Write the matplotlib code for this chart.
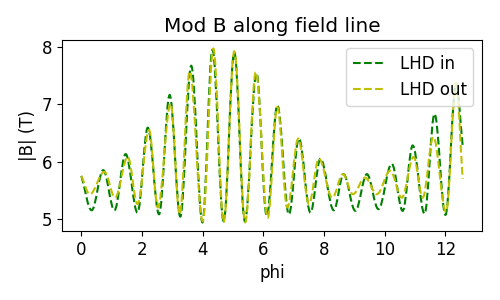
import matplotlib
matplotlib.use("Agg")
import matplotlib.pyplot as plt
from matplotlib.path import Path
from matplotlib.patches import PathPatch
from matplotlib.lines import Line2D

plt.rcParams['font.size'] = 12

# Turning points (phi, |B|) of each series
phi_in = [0.0, 0.34, 0.72, 1.09, 1.46, 1.85, 2.19, 2.56, 2.91, 3.26, 3.62, 3.99,
          4.32, 4.69, 5.04, 5.39, 5.77, 6.11, 6.46, 6.84, 7.17, 7.55, 7.88, 8.32,
          8.64, 9.03, 9.41, 9.79, 10.23, 10.59, 10.92, 11.31, 11.64, 12.00, 12.35, 12.566]
b_in = [5.75, 5.15, 5.85, 5.15, 6.13, 5.11, 6.59, 5.08, 7.16, 5.04, 7.67, 4.94,
        7.95, 4.96, 7.90, 4.96, 7.54, 5.05, 6.98, 5.08, 6.40, 5.11, 6.05, 5.15,
        5.78, 5.14, 5.78, 5.17, 5.96, 5.14, 6.28, 5.09, 6.83, 5.07, 7.36, 6.28]

phi_out = [0.0, 0.28, 0.76, 1.11, 1.53, 1.85, 2.23, 2.52, 2.94, 3.24, 3.57, 4.00,
           4.35, 4.69, 5.04, 5.40, 5.75, 6.14, 6.46, 6.79, 7.15, 7.50, 7.83, 8.27,
           8.62, 8.95, 9.35, 9.74, 10.18, 10.56, 10.95, 11.25, 11.60, 12.02, 12.35, 12.566]
b_out = [5.75, 5.43, 5.82, 5.37, 6.08, 5.26, 6.55, 5.20, 7.01, 5.08, 7.57, 4.96,
         7.97, 4.94, 7.92, 4.94, 7.56, 5.02, 6.95, 5.20, 6.40, 5.26, 6.05, 5.37,
         5.78, 5.43, 5.72, 5.43, 5.84, 5.37, 6.08, 5.37, 6.43, 5.12, 7.36, 5.70]

x_ticks = [0, 2, 4, 6, 8, 10, 12]
y_ticks = [5, 6, 7, 8]


def smooth_path(xs, ys, k=0.36):
    n = len(xs)
    slopes = [0.0] * n
    slopes[0] = (ys[1] - ys[0]) / (xs[1] - xs[0])
    slopes[-1] = (ys[-1] - ys[-2]) / (xs[-1] - xs[-2])
    verts = [(xs[0], ys[0])]
    codes = [Path.MOVETO]
    for i in range(n - 1):
        dx = xs[i + 1] - xs[i]
        verts.append((xs[i] + k * dx, ys[i] + slopes[i] * k * dx))
        verts.append((xs[i + 1] - k * dx, ys[i + 1] - slopes[i + 1] * k * dx))
        verts.append((xs[i + 1], ys[i + 1]))
        codes += [Path.CURVE4] * 3
    return Path(verts, codes)


fig = plt.figure(figsize=(5, 3), dpi=100)
ax = fig.add_axes([0.1246, 0.23, 0.8388, 0.637])

ax.add_patch(PathPatch(smooth_path(phi_in, b_in), fill=False, edgecolor='g',
                       linestyle='--', linewidth=1.5))
ax.add_patch(PathPatch(smooth_path(phi_out, b_out), fill=False, edgecolor='y',
                       linestyle='--', linewidth=1.5))

span_x = phi_in[-1] - phi_in[0]
ax.set_xlim(phi_in[0] - 0.05 * span_x, phi_in[-1] + 0.05 * span_x)
lo = min(min(b_in), min(b_out))
hi = max(max(b_in), max(b_out))
ax.set_ylim(lo - 0.05 * (hi - lo), hi + 0.05 * (hi - lo))
ax.set_xticks(x_ticks)
ax.set_yticks(y_ticks)

handles = [Line2D([], [], color='g', ls='--', lw=1.5),
           Line2D([], [], color='y', ls='--', lw=1.5)]
ax.legend(handles, ['LHD in', 'LHD out'], loc='upper right')
ax.set_title('Mod B along field line')
ax.set_xlabel('phi')
ax.set_ylabel('|B| (T)')

fig.savefig('out.png', dpi=100)
